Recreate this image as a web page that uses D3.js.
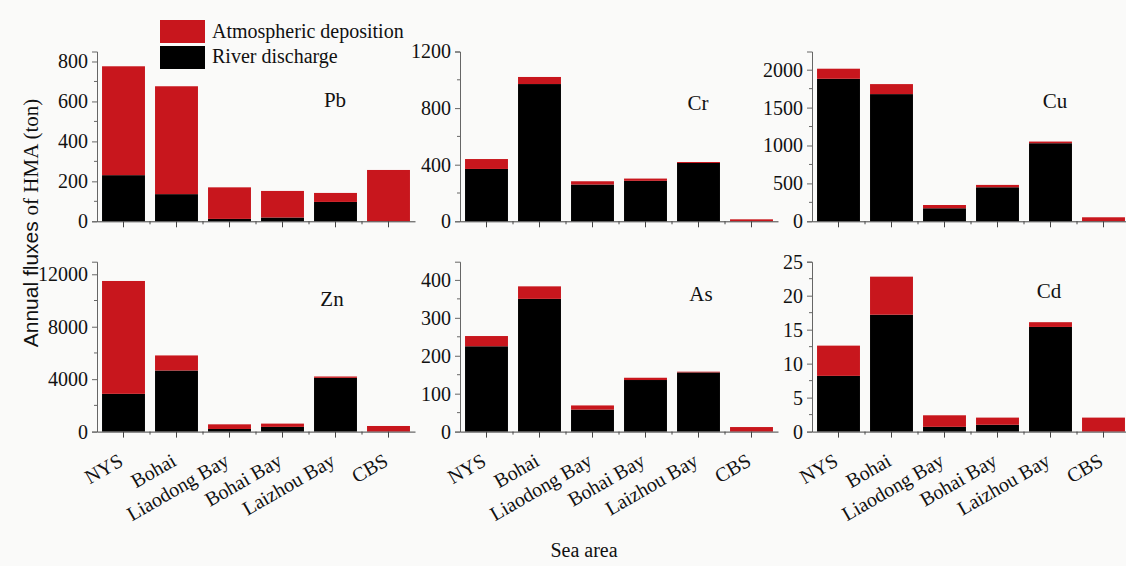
<!DOCTYPE html>
<html>
<head>
<meta charset="utf-8">
<script src="https://cdn.jsdelivr.net/npm/d3@7"></script>
<style>
  html, body { margin: 0; padding: 0; background: #fafaf9; }
  svg { display: block; }
  text { font-family: "Liberation Serif", "Times New Roman", serif; fill: #111; }
</style>
</head>
<body>
<svg id="chart" width="1126" height="566"></svg>
<script>
// Sea areas on the x axis
const seaAreas = ["NYS", "Bohai", "Liaodong Bay", "Bohai Bay", "Laizhou Bay", "CBS"];

// Annual fluxes (ton): river discharge and atmospheric deposition per metal
const pbRiver = [231, 136, 12, 19, 97, 0];
const pbAtmos = [545, 540, 158, 133, 45, 257];
const crRiver = [370, 970, 260, 286, 412, 0];
const crAtmos = [70, 50, 23, 16, 7, 14];
const cuRiver = [1880, 1678, 172, 449, 1030, 0];
const cuAtmos = [133, 132, 43, 31, 22, 53];
const znRiver = [2880, 4660, 200, 360, 4100, 0];
const znAtmos = [8610, 1150, 355, 250, 104, 428];
const asRiver = [225, 350, 58, 136, 156, 0];
const asAtmos = [27, 33, 11, 6, 2, 12];
const cdRiver = [8.2, 17.2, 0.7, 1.0, 15.4, 0];
const cdAtmos = [4.45, 5.6, 1.7, 1.06, 0.7, 2.06];

// Y tick labels per panel
const pbTicks = [0, 200, 400, 600, 800];
const crTicks = [0, 400, 800, 1200];
const cuTicks = [0, 500, 1000, 1500, 2000];
const znTicks = [0, 4000, 8000, 12000];
const asTicks = [0, 100, 200, 300, 400];
const cdTicks = [0, 5, 10, 15, 20, 25];

const seriesNames = ["River discharge", "Atmospheric deposition"];
const colors = { "River discharge": "#000000", "Atmospheric deposition": "#c8161d" };

const panels = [
  { metal: "Pb", river: pbRiver, atmos: pbAtmos, ticks: pbTicks, max: 850,   col: 0, row: 0, lx: 335, ly: 107 },
  { metal: "Cr", river: crRiver, atmos: crAtmos, ticks: crTicks, max: 1200,  col: 1, row: 0, lx: 698, ly: 110 },
  { metal: "Cu", river: cuRiver, atmos: cuAtmos, ticks: cuTicks, max: 2240,  col: 2, row: 0, lx: 1055, ly: 108 },
  { metal: "Zn", river: znRiver, atmos: znAtmos, ticks: znTicks, max: 12960, col: 0, row: 1, lx: 332, ly: 306 },
  { metal: "As", river: asRiver, atmos: asAtmos, ticks: asTicks, max: 448,   col: 1, row: 1, lx: 701, ly: 301 },
  { metal: "Cd", river: cdRiver, atmos: cdAtmos, ticks: cdTicks, max: 25,    col: 2, row: 1, lx: 1049, ly: 298 }
];

const colX = [[97, 415], [460, 778], [812, 1130]];
const rowY = [[51.5, 221.3], [261.7, 431.6]];

const svg = d3.select("#chart");

panels.forEach(p => {
  const [x0, x1] = colX[p.col];
  const [yTop, yBot] = rowY[p.row];

  const x = d3.scaleBand().domain(seaAreas).range([x0, x1]).paddingInner(0.19).paddingOuter(0.095);
  const y = d3.scaleLinear().domain([0, p.max]).range([yBot, yTop]);

  const rows = seaAreas.map((a, i) => ({ area: a, "River discharge": p.river[i], "Atmospheric deposition": p.atmos[i] }));
  const stacked = d3.stack().keys(seriesNames)(rows);

  const g = svg.append("g");

  g.selectAll("g.series").data(stacked).join("g")
    .attr("fill", d => colors[d.key])
    .selectAll("rect").data(d => d).join("rect")
    .attr("x", d => x(d.data.area))
    .attr("width", x.bandwidth())
    .attr("y", d => y(d[1]))
    .attr("height", d => Math.max(0, y(d[0]) - y(d[1])));

  // y axis with major labels and minor ticks between them
  const step = p.ticks[1] - p.ticks[0];
  const minor = d3.range(step / 2, p.max, step).filter(v => !p.ticks.includes(v));
  const yAxis = d3.axisLeft(y).tickValues(p.ticks).tickSize(5).tickPadding(4).tickFormat(d3.format("d"));
  const ya = g.append("g").attr("transform", `translate(${x0},0)`).call(yAxis);
  ya.select(".domain").attr("stroke", "#666");
  ya.selectAll(".tick line").attr("stroke", "#666");
  ya.selectAll(".tick text").style("font-size", "20px").attr("fill", "#111")
    .style("font-family", '"Liberation Serif", serif');
  g.append("g").selectAll("line").data(minor).join("line")
    .attr("x1", x0 - 3).attr("x2", x0).attr("y1", d => y(d)).attr("y2", d => y(d))
    .attr("stroke", "#666");

  // x axis: ticks at category centres, short ticks at band edges
  const xAxis = d3.axisBottom(x).tickSize(6).tickSizeOuter(0).tickFormat("");
  const xa = g.append("g").attr("transform", `translate(0,${yBot})`).call(xAxis);
  xa.select(".domain").attr("stroke", "#444");
  xa.selectAll(".tick line").attr("stroke", "#444");
  const edges = seaAreas.slice(1).map(a => x(a) - x.step() * x.paddingInner() / 2);
  g.append("g").selectAll("line").data(edges).join("line")
    .attr("x1", d => d).attr("x2", d => d).attr("y1", yBot).attr("y2", yBot + 3)
    .attr("stroke", "#444");

  if (p.row === 1) {
    g.append("g").selectAll("text").data(seaAreas).join("text")
      .attr("transform", d => `translate(${x(d) + x.bandwidth() / 2 + 1},${yBot + 33}) rotate(-30)`)
      .attr("text-anchor", "end")
      .style("font-size", "20px")
      .text(d => d);
  }

  g.append("text")
    .attr("x", p.lx).attr("y", p.ly)
    .attr("text-anchor", "middle")
    .style("font-size", "21px")
    .text(p.metal);
});

// legend
const legend = svg.append("g");
const legendItems = ["Atmospheric deposition", "River discharge"];
legend.selectAll("rect").data(legendItems).join("rect")
  .attr("x", 160).attr("y", (d, i) => 20 + i * 26)
  .attr("width", 45).attr("height", 23)
  .attr("fill", d => colors[d]);
legend.selectAll("text").data(legendItems).join("text")
  .attr("x", 212).attr("y", (d, i) => 38 + i * 25)
  .style("font-size", "20px")
  .text(d => d);

// axis titles
const yTitle = svg.append("text")
  .attr("transform", "translate(38,223) rotate(-90)")
  .attr("text-anchor", "middle")
  .style("font-size", "21px");
yTitle.append("tspan").style("font-family", '"Liberation Sans", Arial, sans-serif').text("Annual fluxes ");
yTitle.append("tspan").text("of HMA (ton)");

svg.append("text")
  .attr("x", 584).attr("y", 557)
  .attr("text-anchor", "middle")
  .style("font-size", "20px")
  .text("Sea area");
</script>
</body>
</html>
